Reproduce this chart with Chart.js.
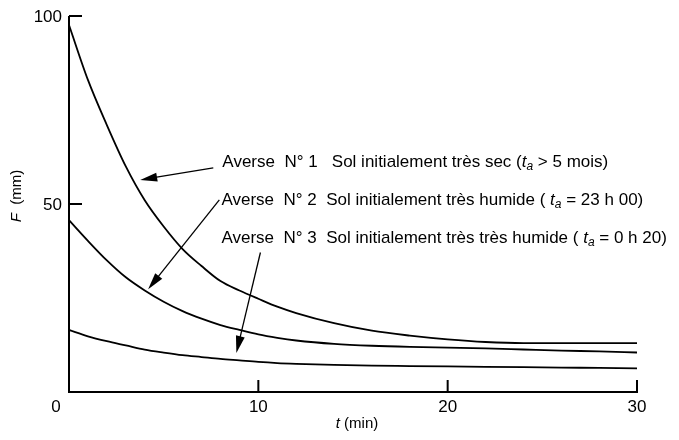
<!DOCTYPE html>
<html>
<head>
<meta charset="utf-8">
<script src="https://cdn.jsdelivr.net/npm/chart.js@4.4.1/dist/chart.umd.min.js"></script>
<style>
  html, body { margin: 0; padding: 0; background: #fff; }
  #wrap { width: 679px; height: 440px; }
</style>
</head>
<body>
<div id="wrap"><canvas id="infilChart" width="679" height="440"></canvas></div>
<script>
// t (min)
const times = [0, 1, 2, 3, 4, 5, 6, 7, 8, 9, 10, 11, 12, 14, 16, 18, 20, 22, 24, 26, 28, 30];
// F (mm) for each shower
const averse1 = [97.6, 83, 71, 60, 51, 44, 38, 33.5, 29.5, 27, 24.8, 22.7, 21, 18.3, 16.3, 15, 14, 13.3, 13, 13, 13, 13];
const averse2 = [45.7, 40.2, 35, 30.5, 27, 24, 21.5, 19.5, 17.8, 16.5, 15.3, 14.4, 13.7, 12.8, 12.3, 12, 11.8, 11.6, 11.3, 11, 10.8, 10.5];
const averse3 = [16.5, 14.8, 13.5, 12.4, 11.3, 10.5, 9.8, 9.3, 8.8, 8.4, 8.0, 7.7, 7.5, 7.2, 7.0, 6.9, 6.8, 6.7, 6.6, 6.5, 6.4, 6.3];

const xTicks = [0, 10, 20, 30];
const yTicks = [50, 100];

// labels: [segments], segment = [text, 'n' normal | 'i' italic | 's' subscript]
const labels = [
    [['Averse  N° 1   Sol initialement très sec (', 'n'], ['t', 'i'], ['a', 's'], [' > 5 mois)', 'n']],
    [['Averse  N° 2  Sol initialement très humide ( ', 'n'], ['t', 'i'], ['a', 's'], [' = 23 h 00)', 'n']],
    [['Averse  N° 3  Sol initialement très très humide ( ', 'n'], ['t', 'i'], ['a', 's'], [' = 0 h 20)', 'n']]
];
// label anchor (t, F) of each line's baseline start
const labelAt = [[8.1, 59.8], [8.05, 49.7], [8.05, 39.6]];
// arrows: [tail t, tail F, tip t, tip F]
const arrows = [
    [7.62, 59.6, 3.76, 56.4],
    [7.94, 51.1, 4.18, 27.3],
    [10.11, 37.1, 8.84, 10.4]
];

const FONT = '"Liberation Sans", Arial, sans-serif';

function toPoints(ys) {
    return times.map((t, i) => ({ x: t, y: ys[i] }));
}

function richWidth(ctx, segs, size) {
    let w = 0;
    segs.forEach(([txt, st]) => {
        if (st === 'i') ctx.font = 'italic ' + size + 'px ' + FONT;
        else if (st === 's') ctx.font = 'italic ' + Math.round(size * 0.7) + 'px ' + FONT;
        else ctx.font = size + 'px ' + FONT;
        w += ctx.measureText(txt).width;
    });
    return w;
}

function drawRich(ctx, segs, x, y, size) {
    segs.forEach(([txt, st]) => {
        let dy = 0;
        if (st === 'i') ctx.font = 'italic ' + size + 'px ' + FONT;
        else if (st === 's') { ctx.font = 'italic ' + Math.round(size * 0.7) + 'px ' + FONT; dy = 3; }
        else ctx.font = size + 'px ' + FONT;
        ctx.fillText(txt, x, y + dy);
        x += ctx.measureText(txt).width;
    });
}

function drawArrow(ctx, x1, y1, x2, y2) {
    const ang = Math.atan2(y2 - y1, x2 - x1);
    const len = 17, half = 4.5;
    ctx.beginPath();
    ctx.moveTo(x1, y1);
    ctx.lineTo(x2 - Math.cos(ang) * len * 0.8, y2 - Math.sin(ang) * len * 0.8);
    ctx.stroke();
    ctx.beginPath();
    ctx.moveTo(x2, y2);
    ctx.lineTo(x2 - Math.cos(ang) * len - Math.sin(ang) * half, y2 - Math.sin(ang) * len + Math.cos(ang) * half);
    ctx.lineTo(x2 - Math.cos(ang) * len + Math.sin(ang) * half, y2 - Math.sin(ang) * len - Math.cos(ang) * half);
    ctx.closePath();
    ctx.fill();
}

// axes, ticks, texts and arrows
const decorPlugin = {
    id: 'decor',
    afterDraw(chart) {
        const ctx = chart.ctx;
        const xs = chart.scales.x, ys = chart.scales.y;
        const x0 = xs.getPixelForValue(0), x30 = xs.getPixelForValue(30);
        const y0 = ys.getPixelForValue(0), y100 = ys.getPixelForValue(100);
        ctx.save();
        ctx.strokeStyle = '#000';
        ctx.fillStyle = '#000';
        ctx.lineWidth = 2;

        // axis lines
        ctx.beginPath();
        ctx.moveTo(x0, y100);
        ctx.lineTo(x0, y0);
        ctx.lineTo(x30 + 1, y0);
        ctx.stroke();

        // inward ticks
        yTicks.forEach(v => {
            const py = ys.getPixelForValue(v);
            ctx.beginPath();
            ctx.moveTo(x0, py);
            ctx.lineTo(x0 + 13, py);
            ctx.stroke();
        });
        xTicks.slice(1).forEach(v => {
            const px = xs.getPixelForValue(v);
            ctx.beginPath();
            ctx.moveTo(px, y0);
            ctx.lineTo(px, y0 - 12);
            ctx.stroke();
        });

        // tick labels
        ctx.font = '17px ' + FONT;
        ctx.textBaseline = 'middle';
        ctx.textAlign = 'right';
        yTicks.forEach(v => ctx.fillText(String(v), x0 - 7, ys.getPixelForValue(v) + 1));
        ctx.textAlign = 'center';
        xTicks.forEach(v => {
            const px = v === 0 ? x0 - 13 : xs.getPixelForValue(v);
            ctx.fillText(String(v), px, y0 + 15);
        });

        // axis titles
        ctx.textBaseline = 'alphabetic';
        ctx.textAlign = 'left';
        const xt = [['t', 'i'], [' (min)', 'n']];
        let w = richWidth(ctx, xt, 15);
        drawRich(ctx, xt, (x0 + x30) / 2 + 4 - w / 2, y0 + 36, 15);

        ctx.save();
        ctx.translate(21, 196);
        ctx.rotate(-Math.PI / 2);
        const yt = [['F', 'i'], ['  (mm)', 'n']];
        w = richWidth(ctx, yt, 15);
        drawRich(ctx, yt, -w / 2, 0, 15);
        ctx.restore();

        // annotations
        labels.forEach((segs, i) => {
            const px = xs.getPixelForValue(labelAt[i][0]);
            const py = ys.getPixelForValue(labelAt[i][1]);
            drawRich(ctx, segs, px, py, 17);
        });

        ctx.lineWidth = 1.3;
        arrows.forEach(a => {
            drawArrow(ctx, xs.getPixelForValue(a[0]), ys.getPixelForValue(a[1]),
                xs.getPixelForValue(a[2]), ys.getPixelForValue(a[3]));
        });
        ctx.restore();
    }
};

const curveStyle = {
    borderColor: '#000',
    borderWidth: 1.8,
    pointRadius: 0,
    fill: false,
    cubicInterpolationMode: 'monotone'
};

new Chart(document.getElementById('infilChart'), {
    type: 'line',
    data: {
        datasets: [
            { label: 'Averse N° 1', data: toPoints(averse1), ...curveStyle },
            { label: 'Averse N° 2', data: toPoints(averse2), ...curveStyle },
            { label: 'Averse N° 3', data: toPoints(averse3), ...curveStyle }
        ]
    },
    options: {
        responsive: false,
        animation: false,
        layout: { padding: { left: 69, right: 42, top: 16, bottom: 48 } },
        scales: {
            x: { type: 'linear', min: 0, max: 30, display: false },
            y: { type: 'linear', min: 0, max: 100, display: false }
        },
        plugins: {
            legend: { display: false },
            tooltip: { enabled: false }
        }
    },
    plugins: [decorPlugin]
});
</script>
</body>
</html>
